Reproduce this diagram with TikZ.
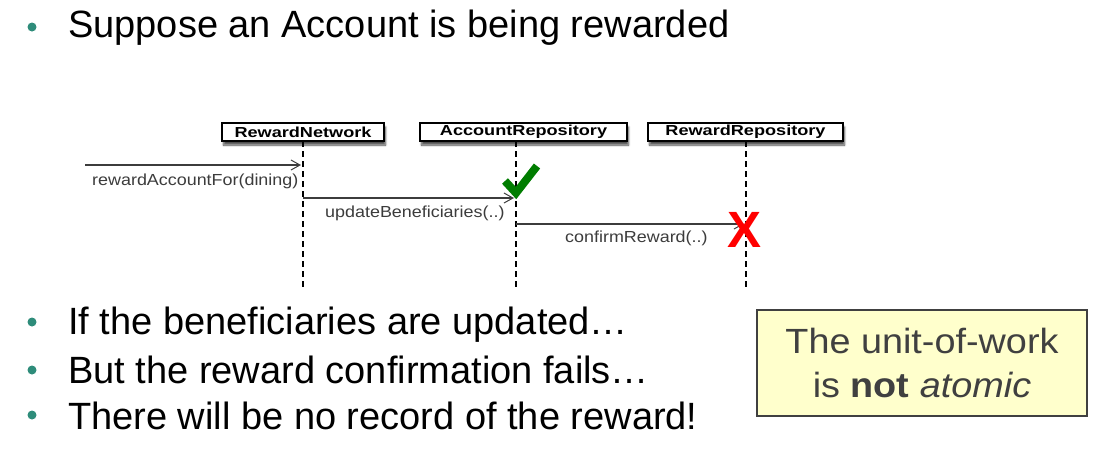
\documentclass[tikz,border=0pt]{standalone}
\usepackage{fontspec}
\setmainfont{Liberation Sans}
\usetikzlibrary{arrows.meta,shadows.blur}
\definecolor{bullet}{RGB}{46,140,122}
\definecolor{msgline}{RGB}{60,60,60}
\definecolor{notefill}{RGB}{255,255,204}
\definecolor{notetext}{RGB}{64,64,64}
\definecolor{okgreen}{RGB}{0,125,0}
\tikzset{
  bulletdot/.style={circle,fill=bullet,inner sep=0pt,minimum size=9pt},
  bullettext/.style={anchor=base west,inner sep=0pt,font=\fontsize{38}{44}\selectfont},
  lifebox/.style={draw=black,line width=1.4pt,fill=white,inner sep=0pt,
    minimum height=18pt,font=\fontsize{14.5}{17}\selectfont\bfseries,
    blur shadow={shadow xshift=1.5pt,shadow yshift=-4pt,shadow blur steps=6,shadow opacity=70}},
  lifeline/.style={draw=black,line width=1.2pt,dash pattern=on 6pt off 4pt},
  msg/.style={draw=msgline,line width=1.1pt,-{Straight Barb[length=9pt,width=10pt,line width=1pt]}},
  msglabel/.style={anchor=base west,inner sep=0pt,text=msgline,font=\fontsize{16}{18}\selectfont},
}
\begin{document}
\begin{tikzpicture}[x=1pt,y=-1pt]
\useasboundingbox (0,0) rectangle (1097,464);

% heading bullet
\node[bulletdot] (d0) at (32,27) {};
\node[bullettext] (t0) at (68,37) {Suppose an Account is being rewarded};

% lifeline heads
\node[lifebox,minimum width=162pt] (rn) at (303,132) {\scalebox{1.25}[1]{RewardNetwork}};
\node[lifebox,minimum width=207pt] (ar) at (523.5,132) {\scalebox{1.25}[1]{AccountRepository}};
\node[lifebox,minimum width=195pt] (rr) at (745.5,132) {\scalebox{1.25}[1]{RewardRepository}};

% lifeline ends
\coordinate (rnE) at (303,290);
\coordinate (arE) at (516,290);
\coordinate (rrE) at (746,290);
\draw[lifeline] (303,141) -- (rnE);
\draw[lifeline] (516,141) -- (arE);
\draw[lifeline] (746,141) -- (rrE);

% messages
\coordinate (in0) at (85,165);
\coordinate (m1e) at (301,165);
\coordinate (m2s) at (303,198);
\coordinate (m2e) at (514,198);
\coordinate (m3s) at (516,224);
\coordinate (m3e) at (744,224);
\draw[msg] (in0) -- (m1e);
\draw[msg] (m2s) -- (m2e);
\draw[msg] (m3s) -- (m3e);
\node[msglabel] (l1) at (92,185) {\scalebox{1.12}[1]{rewardAccountFor(dining)}};
\node[msglabel] (l2) at (325,217) {\scalebox{1.12}[1]{updateBeneficiaries(..)}};
\node[msglabel] (l3) at (565,242) {\scalebox{1.12}[1]{confirmReward(..)}};

% success tick and failure cross
\draw[okgreen,line width=8pt] (505,181) -- (516,193) -- (537,166);
\node[text=red,inner sep=0pt,font=\fontsize{51}{54}\selectfont\bfseries] (fail) at (744.5,229.5) {X};

% consequence bullets
\node[bulletdot] (d1) at (32,322) {};
\node[bulletdot] (d2) at (32,370) {};
\node[bulletdot] (d3) at (32,415) {};
\node[bullettext] (t1) at (68,334) {If the beneficiaries are updated…};
\node[bullettext] (t2) at (68,383) {But the reward confirmation fails…};
\node[bullettext] (t3) at (68,429) {There will be no record of the reward!};

% note
\node[draw=notetext,line width=1.2pt,fill=notefill,minimum width=330pt,minimum height=106pt,
  inner sep=0pt] (note) at (922,363) {};
\node[text=notetext,align=center,inner sep=0pt,font=\fontsize{35}{44}\selectfont] (notetxt) at (note.center)
  {\scalebox{1.08}[1]{The unit-of-work}\\\scalebox{1.08}[1]{is \textbf{not} \textit{atomic}}};
\end{tikzpicture}
\end{document}
